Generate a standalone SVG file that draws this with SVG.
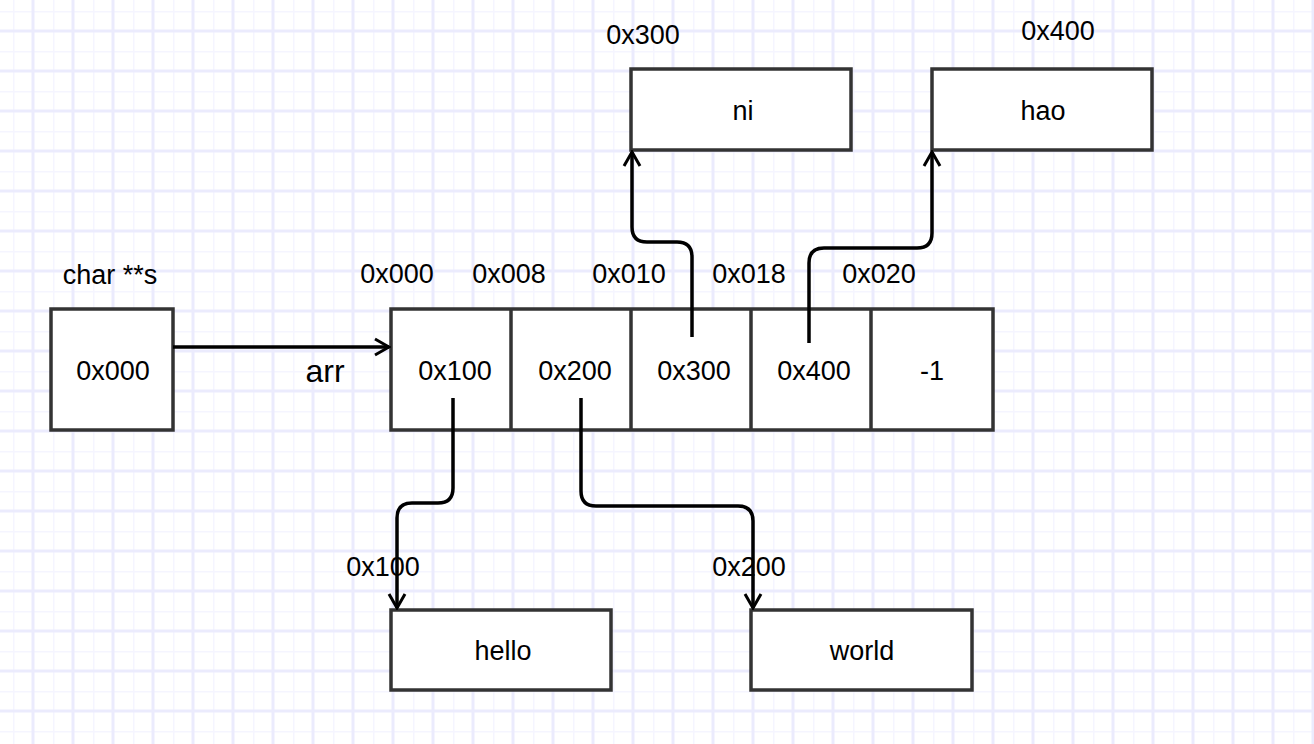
<svg xmlns="http://www.w3.org/2000/svg" width="1314" height="744" viewBox="0 0 1314 744">
<defs>
<pattern id="grid" x="13" y="11" width="40" height="40" patternUnits="userSpaceOnUse">
<path d="M0,0 V40 M0,0 H40" stroke="#f5f5ff" stroke-width="3" fill="none"/>
<path d="M20,0 V40 M0,20 H40" stroke="#ebebfd" stroke-width="3" fill="none"/>
</pattern>
<marker id="arr" viewBox="0 0 20 20" refX="18" refY="10" markerWidth="20" markerHeight="20" markerUnits="userSpaceOnUse" orient="auto">
<path d="M4,2 L18,10 L4,18" fill="none" stroke="#000" stroke-width="3"/>
</marker>
<style>
.box{fill:#fff;stroke:#333;stroke-width:3.5}
.t{font-family:"Liberation Sans",Arial,sans-serif;font-size:27px;fill:#000;text-anchor:middle}
.c{fill:none;stroke:#000;stroke-width:3.5;marker-end:url(#arr)}
</style>
</defs>
<rect width="1314" height="744" fill="#fff"/>
<rect width="1314" height="744" fill="url(#grid)"/>
<g id="labels">
<text class="t" x="643" y="44">0x300</text>
<text class="t" x="1058" y="40">0x400</text>
<text class="t" x="110" y="284">char **s</text>
<text class="t" x="397" y="283">0x000</text>
<text class="t" x="509" y="283">0x008</text>
<text class="t" x="629" y="283">0x010</text>
<text class="t" x="749" y="283">0x018</text>
<text class="t" x="879" y="283">0x020</text>
<text class="t" x="383" y="576">0x100</text>
<text class="t" x="749" y="576">0x200</text>
</g>
<g id="ptr">
<rect class="box" x="51" y="309" width="122" height="121"/>
<text class="t" x="113" y="380">0x000</text>
</g>
<g id="array">
<rect class="box" x="391" y="309" width="602" height="121"/>
<path d="M511,309V430M631,309V430M751,309V430M871,309V430" stroke="#333" stroke-width="3.5"/>
<text class="t" x="455" y="380">0x100</text>
<text class="t" x="575" y="380">0x200</text>
<text class="t" x="694" y="380">0x300</text>
<text class="t" x="814" y="380">0x400</text>
<text class="t" x="932" y="380">-1</text>
</g>
<g id="ni">
<rect class="box" x="631" y="69" width="220" height="81"/>
<text class="t" x="743" y="120">ni</text>
</g>
<g id="hao">
<rect class="box" x="932" y="69" width="220" height="81"/>
<text class="t" x="1043" y="120">hao</text>
</g>
<g id="hello">
<rect class="box" x="391" y="610" width="220" height="80"/>
<text class="t" x="503" y="660">hello</text>
</g>
<g id="world">
<rect class="box" x="751" y="610" width="221" height="80"/>
<text class="t" x="862" y="660">world</text>
</g>
<g id="connectors">
<path class="c" d="M173,347 L389,347"/>
<text class="t" x="325" y="382" style="font-size:32px">arr</text>
<path class="c" d="M453,398 L453,488 Q453,503 438,503 L412,503 Q397,503 397,518 L397,608"/>
<path class="c" d="M581,398 L581,491 Q581,506 596,506 L738,506 Q753,506 753,521 L753,608"/>
<path class="c" d="M692,337 L692,257 Q692,242 677,242 L647,242 Q632,242 632,227 L632,152"/>
<path class="c" d="M809,343 L809,263 Q809,248 824,248 L917,248 Q932,248 932,233 L932,152"/>
</g>
</svg>
